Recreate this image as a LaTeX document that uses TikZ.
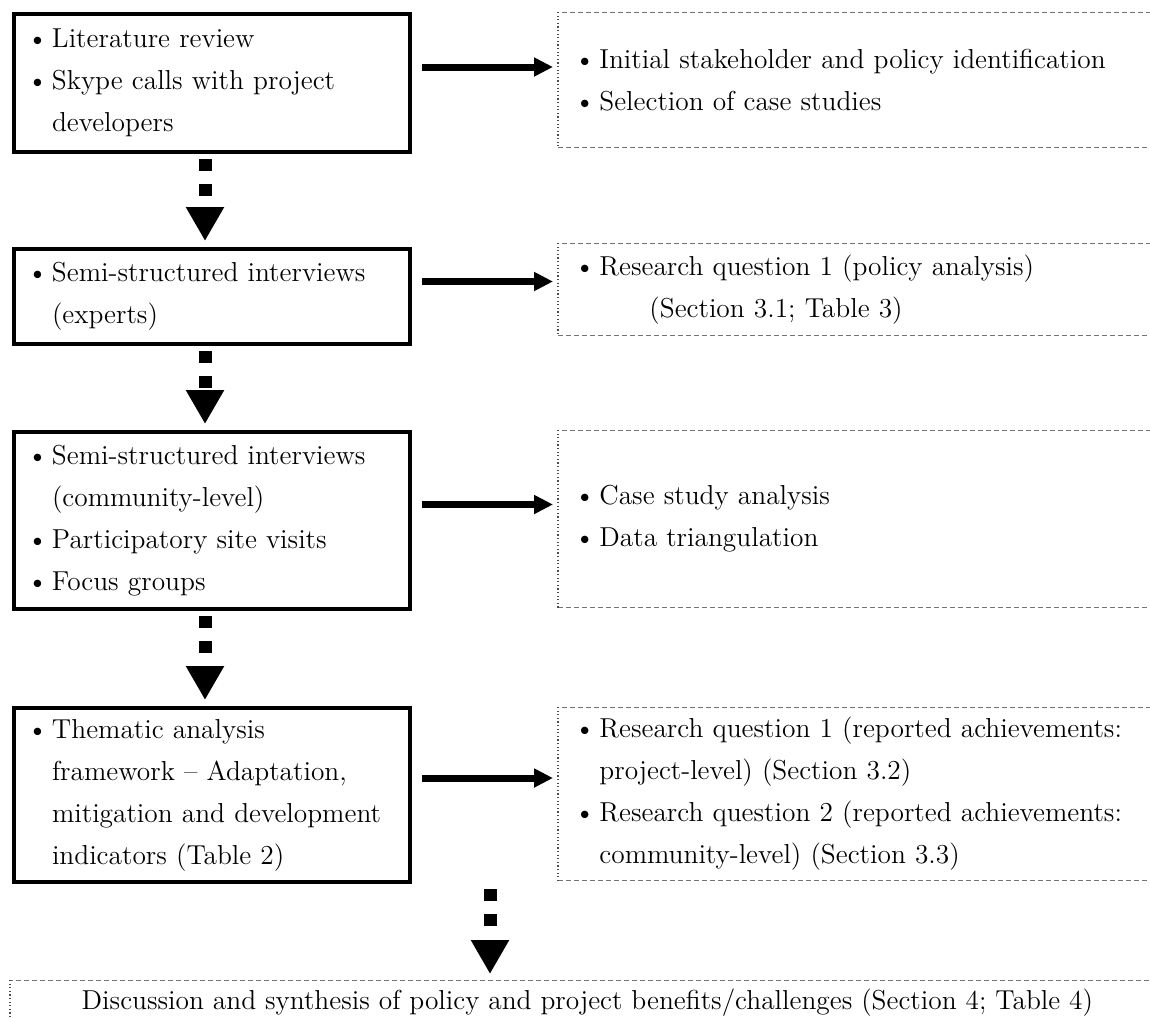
\documentclass[tikz,border=0pt]{standalone}
\usetikzlibrary{positioning}
\usetikzlibrary{calc}
\usetikzlibrary{arrows.meta}
\newcommand{\bulletmark}{\makebox[11pt][l]{\kern-1.5pt\textbullet}}
\newcommand{\bulletindent}{\hspace*{11pt}}
\tikzset{
    % Solid framed box for the method steps
    method box/.style={
        draw, line width=2pt, anchor=north west, align=left,
        inner xsep=8pt, text width=182pt, minimum width=198pt},
%
    % Open box on the right, its sides are drawn afterwards
    result box/.style={
        anchor=north west, align=left,
        inner xsep=9.5pt, text width=301pt, minimum width=320pt},
%
    % The two kinds of border on the open boxes
    dash side/.style={draw=black!55, line width=0.5pt, dash pattern=on 2.5pt off 1.5pt},
    dot side/.style={draw=black!70, line width=0.6pt, dash pattern=on 0.6pt off 1.2pt},
%
    % Thick arrow from a method to its result
    link arrow/.style={
        line width=3.5pt, -{Triangle[length=9.5pt,width=9pt]},
        shorten <=5pt, shorten >=2.5pt},
%
    % Square-dotted arrow between the steps
    drop arrow/.style={
        line width=6.5pt, dash pattern=on 6pt off 6.5pt on 6pt off 20pt,
        -{Triangle[length=17pt,width=18pt]},
        shorten <=2.5pt, shorten >=3pt}}

\begin{document}
\begin{tikzpicture}[x=0.5pt,y=-0.5pt,
    font=\fontsize{13.7}{21}\selectfont]

\useasboundingbox (0,0) rectangle (1150,1018);

% Methods (left column)

\node [method box, minimum height=69pt] (lit) at (12,12)
    {\bulletmark Literature review\\
     \bulletmark Skype calls with project\\
     \bulletindent developers};
\node [method box, minimum height=47.5pt] (expert) at (12,247)
    {\bulletmark Semi-structured interviews\\
     \bulletindent (experts)};
\node [method box, minimum height=88.5pt] (community) at (12,430)
    {\bulletmark Semi-structured interviews\\
     \bulletindent (community-level)\\
     \bulletmark Participatory site visits\\
     \bulletmark Focus groups};
\node [method box, minimum height=87pt] (thematic) at (12,706)
    {\bulletmark Thematic analysis\\
     \bulletindent framework -- Adaptation,\\
     \bulletindent mitigation and development\\
     \bulletindent indicators (Table 2)};

% Results (right column)

\node [result box, minimum height=67.5pt] (ident) at (558,12)
    {\bulletmark Initial stakeholder and policy identification\\
     \bulletmark Selection of case studies};
\node [result box, minimum height=46pt] (policy) at (558,243)
    {\bulletmark Research question 1 (policy analysis)\\
     \hspace*{36pt}(Section 3.1; Table 3)};
\node [result box, minimum height=88.5pt] (cases) at (558,430)
    {\bulletmark Case study analysis\\
     \bulletmark Data triangulation};
\node [result box, minimum height=86.5pt] (achieve) at (558,707)
    {\bulletmark Research question 1 (reported achievements:\\
     \bulletindent project-level) (Section 3.2)\\
     \bulletmark Research question 2 (reported achievements:\\
     \bulletindent community-level) (Section 3.3)};

\node [anchor=north west, minimum width=577pt, minimum height=22pt,
    inner ysep=0pt] (synth) at (10,980)
    {Discussion and synthesis of policy and project benefits/challenges
     (Section 4; Table 4)};

\foreach \res in {ident, policy, cases, achieve, synth} {
    \draw [dash side] (\res.north east) -- (\res.north west);
    \draw [dash side] (\res.south west) -- (\res.south east);
    \draw [dot side] (\res.north west) -- (\res.south west);
}

% Arrows

\draw [link arrow] ([yshift=8pt]lit.east) -- ([yshift=8pt]lit.east -| ident.west);
\draw [link arrow] ([yshift=7.5pt]expert.east) -- ([yshift=7.5pt]expert.east -| policy.west);
\draw [link arrow] ([yshift=8pt]community.east) -- ([yshift=8pt]community.east -| cases.west);
\draw [link arrow] ([yshift=8.5pt]thematic.east) -- ([yshift=8.5pt]thematic.east -| achieve.west);

\draw [drop arrow] ([xshift=-3.5pt]lit.south) -- ([xshift=-3.5pt]expert.north);
\draw [drop arrow] ([xshift=-3.5pt]expert.south) -- ([xshift=-3.5pt]community.north);
\draw [drop arrow] ([xshift=-3.5pt]community.south) -- ([xshift=-3.5pt]thematic.north);
\coordinate (drop) at (490,0);
\draw [drop arrow] (thematic.south -| drop) -- (synth.north -| drop);

\end{tikzpicture}
\end{document}
